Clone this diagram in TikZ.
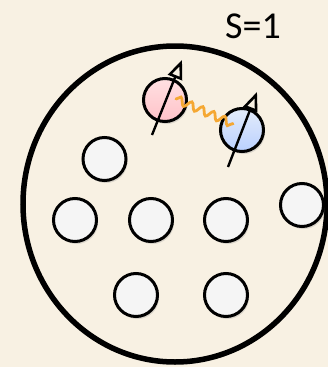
\documentclass[tikz,border=0pt]{standalone}
\usepackage{fontspec}
\setmainfont{Carlito}
\usetikzlibrary{shadows,arrows.meta,decorations.pathmorphing,shadings}
\definecolor{bg}{HTML}{F8F1E3}
\definecolor{ball}{HTML}{F5F5F5}
\definecolor{wave}{HTML}{F5A833}
\definecolor{pinktop}{HTML}{FFE0E2}
\definecolor{pinkbot}{HTML}{FFC2C8}
\definecolor{bluetop}{HTML}{E4ECFA}
\definecolor{bluebot}{HTML}{B9D0FF}
\tikzset{
  ball/.style={circle, draw=black, line width=3pt, fill=ball, minimum size=43pt, inner sep=0pt,
    drop shadow={opacity=0.25, shadow xshift=1.5pt, shadow yshift=-2.5pt}},
  pinkball/.style={ball, top color=pinktop, bottom color=pinkbot},
  blueball/.style={ball, top color=bluetop, bottom color=bluebot},
  spin/.style={line width=2.4pt, -{Triangle[open, length=19pt, width=15pt, line width=2.6pt]}},
}
\begin{document}
\begin{tikzpicture}[x=1pt,y=-1pt]
\useasboundingbox[fill=bg] (0,0) rectangle (328,367);
\node[font=\fontsize{38}{40}\selectfont, inner sep=0pt] (lab) at (253,26) {S=1};
\draw[line width=5.5pt] (175,204) ellipse [x radius=152, y radius=158];
\node[ball] (b1) at (104.5,159) {};
\node[ball] (b2) at (75,220) {};
\node[ball] (b3) at (151,220) {};
\node[ball] (b4) at (226,220) {};
\node[ball] (b5) at (302,205) {};
\node[ball] (b6) at (136,295) {};
\node[ball] (b7) at (226,295) {};
\node[pinkball] (p) at (165,100) {};
\node[blueball] (q) at (242,130) {};
\coordinate (pa) at (152,135);
\coordinate (pb) at (182,60);
\coordinate (qa) at (228,167);
\coordinate (qb) at (257,92);
\draw[spin] (pa) -- (pb);
\draw[spin] (qa) -- (qb);
\coordinate (w1) at (176,99);
\coordinate (w2) at (233,124);
\draw[wave, line width=2.8pt, line cap=round, decorate, decoration={snake, amplitude=3.8pt, segment length=12pt}] (w1) -- (w2);
\end{tikzpicture}
\end{document}
